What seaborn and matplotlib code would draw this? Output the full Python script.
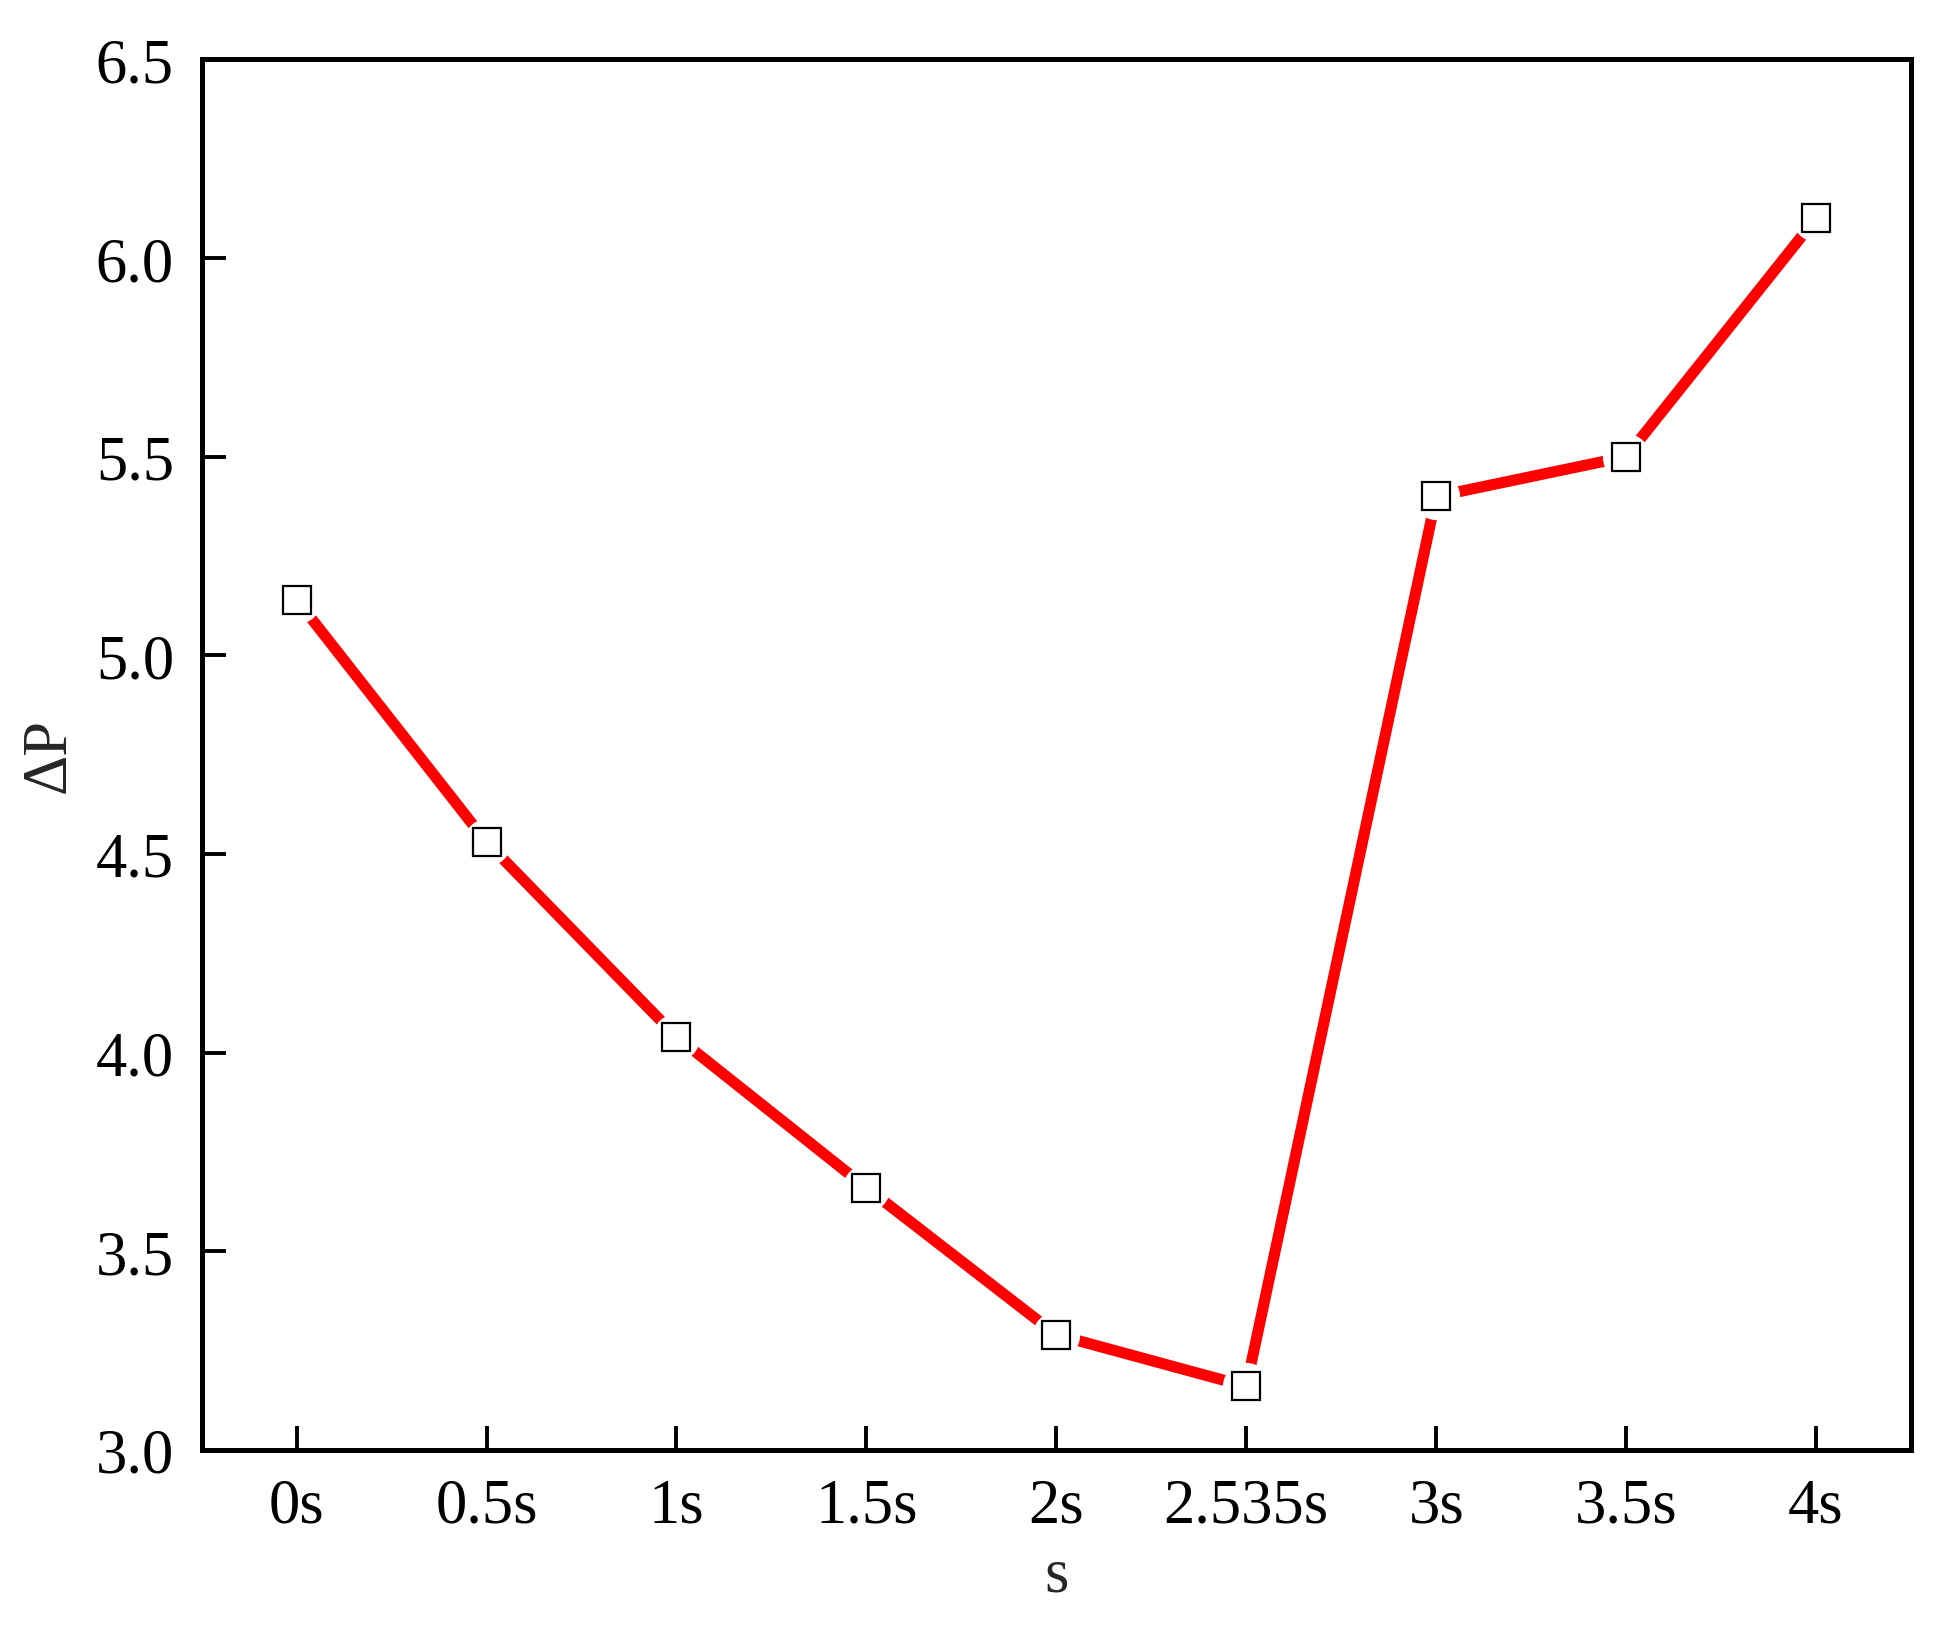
import matplotlib
matplotlib.use("Agg")
import matplotlib.pyplot as plt
import pandas as pd
import seaborn as sns

# data
times = ["0s", "0.5s", "1s", "1.5s", "2s", "2.535s", "3s", "3.5s", "4s"]
delta_p = [5.14, 4.53, 4.04, 3.66, 3.29, 3.16, 5.40, 5.50, 6.10]
y_ticks = [3.0, 3.5, 4.0, 4.5, 5.0, 5.5, 6.0, 6.5]

frame = pd.DataFrame({"t": times, "dp": delta_p})

sns.set_style("ticks")
plt.rcParams["font.family"] = ["Liberation Serif", "DejaVu Serif"]

fig = plt.figure(figsize=(19.58, 16.33), dpi=100)
ax = fig.add_axes([0.103, 0.1115, 0.873, 0.8515])

# red line, with white discs under the markers to leave the gaps
sns.lineplot(data=frame, x="t", y="dp", sort=False, ax=ax, color="red",
             linewidth=8, solid_capstyle="round", zorder=2)
ax.plot(frame["t"], frame["dp"], linestyle="none", marker="o", markersize=34,
        markerfacecolor="white", markeredgecolor="none", zorder=3)
ax.plot(frame["t"], frame["dp"], linestyle="none", marker="s", markersize=20,
        markerfacecolor="white", markeredgecolor="black", markeredgewidth=1.6,
        zorder=4)

ax.set_xlim(-0.5, len(times) - 0.5)
ax.set_ylim(3.0, 6.5)
ax.set_yticks(y_ticks)
ax.set_yticklabels(["{:.1f}".format(v) for v in y_ticks])

for side in ["top", "right", "bottom", "left"]:
    ax.spines[side].set_visible(True)
    ax.spines[side].set_linewidth(3.6)
    ax.spines[side].set_color("black")

ax.tick_params(axis="both", direction="in", length=17, width=2.8,
               labelsize=45, colors="black")
ax.tick_params(axis="y", pad=20)
ax.tick_params(axis="x", pad=20)

ax.set_xlabel("s", fontsize=45, labelpad=8)
ax.set_ylabel("ΔP", fontsize=45, labelpad=12)

plt.savefig("out.png", dpi=100)
